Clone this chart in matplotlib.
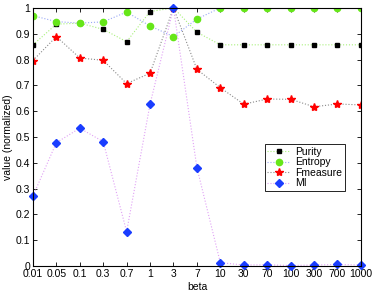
#!/usr/bin/env python3

import matplotlib
matplotlib.use("Agg")
import matplotlib.pyplot as plt


BETA = ["0.01", "0.05", "0.1", "0.3", "0.7", "1", "3", "7",
        "10", "30", "70", "100", "300", "700", "1000"]

PURITY = [0.857, 0.937, 0.941, 0.917, 0.869, 0.986, 1.0, 0.906,
          0.857, 0.857, 0.857, 0.857, 0.857, 0.857, 0.857]
ENTROPY = [0.970, 0.947, 0.941, 0.946, 0.984, 0.930, 0.889, 0.957,
           1.0, 1.0, 1.0, 1.0, 1.0, 1.0, 1.0]
FMEASURE = [0.796, 0.889, 0.806, 0.797, 0.707, 0.747, 1.0, 0.762,
            0.691, 0.627, 0.647, 0.646, 0.617, 0.628, 0.624]
MI = [0.271, 0.478, 0.534, 0.482, 0.133, 0.627, 1.0, 0.381,
      0.013, 0.004, 0.005, 0.002, 0.004, 0.006, 0.004]

YTICKS = [0, 0.1, 0.2, 0.3, 0.4, 0.5, 0.6, 0.7, 0.8, 0.9, 1]
YTICK_LABELS = ["0", "0.1", "0.2", "0.3", "0.4", "0.5", "0.6", "0.7", "0.8", "0.9", "1"]


def main():
    plt.rcParams["font.family"] = ["Liberation Sans", "DejaVu Sans"]
    plt.rcParams["font.size"] = 7.5

    fig = plt.figure(figsize=(3.74, 2.93), dpi=100)
    ax = fig.add_axes([0.088, 0.092, 0.877, 0.881])

    x = list(range(1, len(BETA) + 1))

    ax.plot(x, PURITY, ls=":", lw=0.8, color="#a8f07a", marker="s",
            ms=3.2, mfc="black", mec="black", label="Purity")
    ax.plot(x, ENTROPY, ls=":", lw=0.8, color="#9aa8f5", marker="o",
            ms=4.5, mfc="#66e619", mec="#66e619", label="Entropy")
    ax.plot(x, FMEASURE, ls=":", lw=0.8, color="#8a8a8a", marker="*",
            ms=6, mfc="red", mec="red", label="Fmeasure")
    ax.plot(x, MI, ls=":", lw=0.8, color="#e0a0f5", marker="D",
            ms=3.8, mfc="#1a3dff", mec="#1a3dff", label="MI", clip_on=False)

    ax.set_xlim(1, len(BETA))
    ax.set_ylim(0, 1)
    ax.set_xticks(x)
    ax.set_xticklabels(BETA)
    ax.set_yticks(YTICKS)
    ax.set_yticklabels(YTICK_LABELS)
    ax.tick_params(direction="in", top=True, right=True, length=3,
                   width=0.6, pad=2)
    for s in ax.spines.values():
        s.set_linewidth(0.8)

    ax.set_xlabel("beta", labelpad=2)
    ax.set_ylabel("value (normalized)", labelpad=2)

    leg = ax.legend(loc="upper left", bbox_to_anchor=(0.707, 0.472),
                    fancybox=False, edgecolor="black", framealpha=1,
                    handlelength=2.2, borderpad=0.25, labelspacing=0.05,
                    handletextpad=0.5, borderaxespad=0)
    leg.get_frame().set_linewidth(0.6)

    fig.savefig("out.png", dpi=100)


if __name__ == "__main__":
    main()
